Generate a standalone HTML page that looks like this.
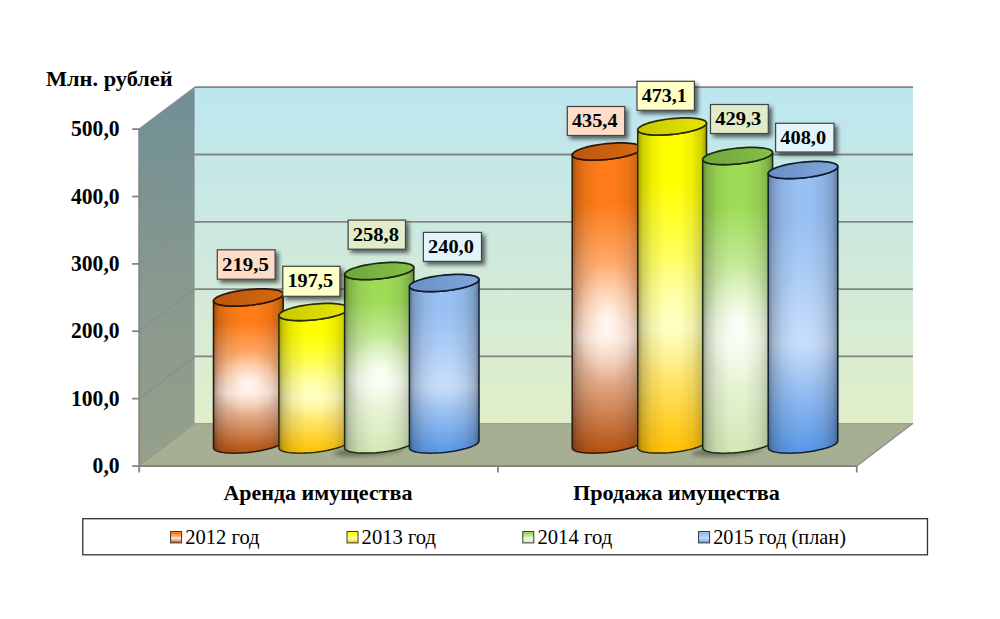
<!DOCTYPE html>
<html><head><meta charset="utf-8">
<style>
html,body{margin:0;padding:0;background:#fff;}
body{width:1000px;height:619px;overflow:hidden;font-family:"Liberation Serif",serif;}
svg{display:block;}
text{font-family:"Liberation Serif",serif;fill:#000;}
.b{font-weight:bold;}
</style></head><body>
<svg width="1000" height="619" viewBox="0 0 1000 619">
<defs>
<linearGradient id="gBack" x1="0" y1="0" x2="0" y2="1">
<stop offset="0" stop-color="#bce6f0"/><stop offset="0.5" stop-color="#cfe9dc"/><stop offset="1" stop-color="#e0efc8"/>
</linearGradient>
<linearGradient id="gSide" x1="0" y1="0" x2="0" y2="1">
<stop offset="0" stop-color="#6f8f96"/><stop offset="0.5" stop-color="#87988f"/><stop offset="1" stop-color="#96a089"/>
</linearGradient>
<filter id="sh" x="-20%" y="-20%" width="150%" height="160%">
<feGaussianBlur in="SourceAlpha" stdDeviation="2"/><feOffset dx="3" dy="3"/>
<feComponentTransfer><feFuncA type="linear" slope="0.6"/></feComponentTransfer>
<feMerge><feMergeNode/><feMergeNode in="SourceGraphic"/></feMerge>
</filter>
<filter id="fs" x="-20%" y="-100%" width="140%" height="300%"><feGaussianBlur stdDeviation="2.2"/></filter>
<linearGradient id="vo" x1="0" y1="0" x2="0" y2="1"><stop offset="0" stop-color="#ff7c18"/><stop offset="0.18" stop-color="#ff7c18"/><stop offset="0.62" stop-color="#ffe2d2"/><stop offset="1" stop-color="#b4500f"/></linearGradient>
<linearGradient id="co" x1="0" y1="0" x2="1" y2="0"><stop offset="0" stop-color="#b9560d"/><stop offset="1" stop-color="#d8690f"/></linearGradient>
<linearGradient id="vy" x1="0" y1="0" x2="0" y2="1"><stop offset="0" stop-color="#ffff00"/><stop offset="0.18" stop-color="#ffff00"/><stop offset="0.62" stop-color="#ffffb4"/><stop offset="1" stop-color="#ffc000"/></linearGradient>
<linearGradient id="cy" x1="0" y1="0" x2="1" y2="0"><stop offset="0" stop-color="#c8c800"/><stop offset="1" stop-color="#e6e600"/></linearGradient>
<linearGradient id="vg" x1="0" y1="0" x2="0" y2="1"><stop offset="0" stop-color="#9edc58"/><stop offset="0.18" stop-color="#9edc58"/><stop offset="0.62" stop-color="#f4fbe8"/><stop offset="1" stop-color="#d2e8b4"/></linearGradient>
<linearGradient id="cg" x1="0" y1="0" x2="1" y2="0"><stop offset="0" stop-color="#6ea63a"/><stop offset="1" stop-color="#86c048"/></linearGradient>
<linearGradient id="vb" x1="0" y1="0" x2="0" y2="1"><stop offset="0" stop-color="#98c0f2"/><stop offset="0.18" stop-color="#98c0f2"/><stop offset="0.62" stop-color="#c2daf9"/><stop offset="1" stop-color="#5896e6"/></linearGradient>
<linearGradient id="cb" x1="0" y1="0" x2="1" y2="0"><stop offset="0" stop-color="#6a8fc4"/><stop offset="1" stop-color="#80a6dc"/></linearGradient>
<linearGradient id="edge" x1="0" y1="0" x2="1" y2="0"><stop offset="0" stop-color="#000" stop-opacity="0.38"/><stop offset="0.07" stop-color="#000" stop-opacity="0.19"/><stop offset="0.2" stop-color="#000" stop-opacity="0.07"/><stop offset="0.4" stop-color="#000" stop-opacity="0"/><stop offset="0.6" stop-color="#000" stop-opacity="0"/><stop offset="0.8" stop-color="#000" stop-opacity="0.07"/><stop offset="0.93" stop-color="#000" stop-opacity="0.19"/><stop offset="1" stop-color="#000" stop-opacity="0.38"/></linearGradient>
<radialGradient id="ho" cx="0.5" cy="0.5" r="0.5"><stop offset="0" stop-color="#ffffff" stop-opacity="0.85"/><stop offset="0.45" stop-color="#ffffff" stop-opacity="0.36"/><stop offset="1" stop-color="#ffffff" stop-opacity="0"/></radialGradient>
<radialGradient id="hy" cx="0.5" cy="0.5" r="0.5"><stop offset="0" stop-color="#ffffd8" stop-opacity="0.55"/><stop offset="0.45" stop-color="#ffffd8" stop-opacity="0.23"/><stop offset="1" stop-color="#ffffd8" stop-opacity="0"/></radialGradient>
<radialGradient id="hg" cx="0.5" cy="0.5" r="0.5"><stop offset="0" stop-color="#ffffff" stop-opacity="0.8"/><stop offset="0.45" stop-color="#ffffff" stop-opacity="0.34"/><stop offset="1" stop-color="#ffffff" stop-opacity="0"/></radialGradient>
<radialGradient id="hb" cx="0.5" cy="0.5" r="0.5"><stop offset="0" stop-color="#dcebff" stop-opacity="0.26"/><stop offset="0.45" stop-color="#dcebff" stop-opacity="0.11"/><stop offset="1" stop-color="#dcebff" stop-opacity="0"/></radialGradient>
</defs>
<polygon points="139.2,129.1 194.8,87.2 194.8,423.2 139.2,466.0" fill="url(#gSide)"/>
<rect x="194.8" y="87.2" width="718.2" height="336.0" fill="url(#gBack)"/>
<polygon points="139.2,466.0 194.8,423.2 913.0,423.2 856.8,466.0" fill="#a6af91"/>
<g stroke="#848484" stroke-width="1.8" fill="none">
<path d="M139.2 129.1 L194.8 87.2" stroke="#8c8c8c" stroke-width="1.3"/>
<path d="M194.8 87.2 L913.0 87.2"/>
<path d="M132.2 129.1 L139.2 129.1"/>
<path d="M139.2 196.5 L194.8 154.5" stroke="#8c8c8c" stroke-width="1.3"/>
<path d="M194.8 154.5 L913.0 154.5"/>
<path d="M132.2 196.5 L139.2 196.5"/>
<path d="M139.2 263.9 L194.8 221.8" stroke="#8c8c8c" stroke-width="1.3"/>
<path d="M194.8 221.8 L913.0 221.8"/>
<path d="M132.2 263.9 L139.2 263.9"/>
<path d="M139.2 331.2 L194.8 289.1" stroke="#8c8c8c" stroke-width="1.3"/>
<path d="M194.8 289.1 L913.0 289.1"/>
<path d="M132.2 331.2 L139.2 331.2"/>
<path d="M139.2 398.6 L194.8 356.4" stroke="#8c8c8c" stroke-width="1.3"/>
<path d="M194.8 356.4 L913.0 356.4"/>
<path d="M132.2 398.6 L139.2 398.6"/>
<path d="M139.2 466.0 L194.8 423.7" stroke="#8f957f" stroke-width="1"/>
<path d="M194.8 423.7 L913.0 423.7" stroke="#949a80" stroke-width="1"/>
<path d="M132.2 466.0 L139.2 466.0"/>
<path d="M139.2 129.1 L139.2 472.5"/>
<path d="M139.2 466.0 L856.8 466.0"/>
<path d="M856.8 466.0 L913.0 423.2" stroke="#8c8c8c" stroke-width="1.4"/>
<path d="M498.0 466.0 v6.5 M856.8 466.0 v6.5"/>
</g>
<g>
<ellipse cx="726.7" cy="451.0" rx="35" ry="4.5" fill="#3c4030" opacity="0.55" filter="url(#fs)" transform="rotate(-4 729.7 451.0)"/>
<ellipse cx="368.2" cy="451.0" rx="35" ry="4.5" fill="#3c4030" opacity="0.55" filter="url(#fs)" transform="rotate(-4 371.2 451.0)"/>
<path d="M213.50 300.99 L213.69 301.79 L214.26 302.55 L215.21 303.26 L216.51 303.90 L218.17 304.47 L220.16 304.96 L222.45 305.38 L225.03 305.70 L227.87 305.94 L230.93 306.08 L234.18 306.13 L237.58 306.09 L241.10 305.95 L244.71 305.72 L248.35 305.40 L251.99 304.99 L255.60 304.50 L259.12 303.94 L262.52 303.30 L265.77 302.60 L268.83 301.84 L271.67 301.04 L274.25 300.20 L276.54 299.32 L278.53 298.43 L280.19 297.53 L281.49 296.63 L282.44 295.73 L283.01 294.86 L283.20 294.01 L283.20 441.01 L283.01 441.86 L282.44 442.73 L281.49 443.63 L280.19 444.53 L278.53 445.43 L276.54 446.32 L274.25 447.20 L271.67 448.04 L268.83 448.84 L265.77 449.60 L262.52 450.30 L259.12 450.94 L255.60 451.50 L251.99 451.99 L248.35 452.40 L244.71 452.72 L241.10 452.95 L237.58 453.09 L234.18 453.13 L230.93 453.08 L227.87 452.94 L225.03 452.70 L222.45 452.38 L220.16 451.96 L218.17 451.47 L216.51 450.90 L215.21 450.26 L214.26 449.55 L213.69 448.79 L213.50 447.99Z" fill="url(#vo)"/>
<path d="M213.50 300.99 L213.69 301.79 L214.26 302.55 L215.21 303.26 L216.51 303.90 L218.17 304.47 L220.16 304.96 L222.45 305.38 L225.03 305.70 L227.87 305.94 L230.93 306.08 L234.18 306.13 L237.58 306.09 L241.10 305.95 L244.71 305.72 L248.35 305.40 L251.99 304.99 L255.60 304.50 L259.12 303.94 L262.52 303.30 L265.77 302.60 L268.83 301.84 L271.67 301.04 L274.25 300.20 L276.54 299.32 L278.53 298.43 L280.19 297.53 L281.49 296.63 L282.44 295.73 L283.01 294.86 L283.20 294.01 L283.20 441.01 L283.01 441.86 L282.44 442.73 L281.49 443.63 L280.19 444.53 L278.53 445.43 L276.54 446.32 L274.25 447.20 L271.67 448.04 L268.83 448.84 L265.77 449.60 L262.52 450.30 L259.12 450.94 L255.60 451.50 L251.99 451.99 L248.35 452.40 L244.71 452.72 L241.10 452.95 L237.58 453.09 L234.18 453.13 L230.93 453.08 L227.87 452.94 L225.03 452.70 L222.45 452.38 L220.16 451.96 L218.17 451.47 L216.51 450.90 L215.21 450.26 L214.26 449.55 L213.69 448.79 L213.50 447.99Z" fill="url(#edge)"/>
<clipPath id="cp4"><path d="M213.50 300.99 L213.69 301.79 L214.26 302.55 L215.21 303.26 L216.51 303.90 L218.17 304.47 L220.16 304.96 L222.45 305.38 L225.03 305.70 L227.87 305.94 L230.93 306.08 L234.18 306.13 L237.58 306.09 L241.10 305.95 L244.71 305.72 L248.35 305.40 L251.99 304.99 L255.60 304.50 L259.12 303.94 L262.52 303.30 L265.77 302.60 L268.83 301.84 L271.67 301.04 L274.25 300.20 L276.54 299.32 L278.53 298.43 L280.19 297.53 L281.49 296.63 L282.44 295.73 L283.01 294.86 L283.20 294.01 L283.20 441.01 L283.01 441.86 L282.44 442.73 L281.49 443.63 L280.19 444.53 L278.53 445.43 L276.54 446.32 L274.25 447.20 L271.67 448.04 L268.83 448.84 L265.77 449.60 L262.52 450.30 L259.12 450.94 L255.60 451.50 L251.99 451.99 L248.35 452.40 L244.71 452.72 L241.10 452.95 L237.58 453.09 L234.18 453.13 L230.93 453.08 L227.87 452.94 L225.03 452.70 L222.45 452.38 L220.16 451.96 L218.17 451.47 L216.51 450.90 L215.21 450.26 L214.26 449.55 L213.69 448.79 L213.50 447.99Z"/></clipPath>
<ellipse cx="248.3" cy="383.5" rx="33.1" ry="32.0" fill="url(#ho)" clip-path="url(#cp4)"/>
<path d="M213.50 300.99 L213.69 301.79 L214.26 302.55 L215.21 303.26 L216.51 303.90 L218.17 304.47 L220.16 304.96 L222.45 305.38 L225.03 305.70 L227.87 305.94 L230.93 306.08 L234.18 306.13 L237.58 306.09 L241.10 305.95 L244.71 305.72 L248.35 305.40 L251.99 304.99 L255.60 304.50 L259.12 303.94 L262.52 303.30 L265.77 302.60 L268.83 301.84 L271.67 301.04 L274.25 300.20 L276.54 299.32 L278.53 298.43 L280.19 297.53 L281.49 296.63 L282.44 295.73 L283.01 294.86 L283.20 294.01 L283.20 441.01 L283.01 441.86 L282.44 442.73 L281.49 443.63 L280.19 444.53 L278.53 445.43 L276.54 446.32 L274.25 447.20 L271.67 448.04 L268.83 448.84 L265.77 449.60 L262.52 450.30 L259.12 450.94 L255.60 451.50 L251.99 451.99 L248.35 452.40 L244.71 452.72 L241.10 452.95 L237.58 453.09 L234.18 453.13 L230.93 453.08 L227.87 452.94 L225.03 452.70 L222.45 452.38 L220.16 451.96 L218.17 451.47 L216.51 450.90 L215.21 450.26 L214.26 449.55 L213.69 448.79 L213.50 447.99Z" fill="none" stroke="#2a1608" stroke-width="1.5" stroke-linejoin="round"/>
<path d="M213.50 300.99 L213.69 300.14 L214.26 299.27 L215.21 298.37 L216.51 297.47 L218.17 296.57 L220.16 295.68 L222.45 294.80 L225.03 293.96 L227.87 293.16 L230.92 292.40 L234.18 291.70 L237.58 291.06 L241.10 290.50 L244.71 290.01 L248.35 289.60 L251.99 289.28 L255.60 289.05 L259.12 288.91 L262.52 288.87 L265.77 288.92 L268.83 289.06 L271.67 289.30 L274.25 289.62 L276.54 290.04 L278.53 290.53 L280.19 291.10 L281.49 291.74 L282.44 292.45 L283.01 293.21 L283.20 294.01 L283.20 294.01 L283.01 294.86 L282.44 295.73 L281.49 296.63 L280.19 297.53 L278.53 298.43 L276.54 299.32 L274.25 300.20 L271.67 301.04 L268.83 301.84 L265.77 302.60 L262.52 303.30 L259.12 303.94 L255.60 304.50 L251.99 304.99 L248.35 305.40 L244.71 305.72 L241.10 305.95 L237.58 306.09 L234.18 306.13 L230.93 306.08 L227.87 305.94 L225.03 305.70 L222.45 305.38 L220.16 304.96 L218.17 304.47 L216.51 303.90 L215.21 303.26 L214.26 302.55 L213.69 301.79 L213.50 300.99Z" fill="url(#co)" stroke="#2a1608" stroke-width="1.7"/>
<path d="M278.90 315.48 L279.09 316.29 L279.66 317.05 L280.60 317.75 L281.91 318.39 L283.56 318.96 L285.55 319.46 L287.84 319.87 L290.41 320.20 L293.25 320.44 L296.30 320.58 L299.55 320.63 L302.95 320.59 L306.46 320.45 L310.06 320.22 L313.70 319.90 L317.34 319.49 L320.94 319.00 L324.45 318.44 L327.85 317.80 L331.10 317.10 L334.15 316.35 L336.99 315.54 L339.56 314.70 L341.85 313.83 L343.84 312.94 L345.49 312.03 L346.80 311.13 L347.74 310.24 L348.31 309.36 L348.50 308.52 L348.50 441.02 L348.31 441.86 L347.74 442.74 L346.80 443.63 L345.49 444.53 L343.84 445.44 L341.85 446.33 L339.56 447.20 L336.99 448.04 L334.15 448.85 L331.10 449.60 L327.85 450.30 L324.45 450.94 L320.94 451.50 L317.34 451.99 L313.70 452.40 L310.06 452.72 L306.46 452.95 L302.95 453.09 L299.55 453.13 L296.30 453.08 L293.25 452.94 L290.41 452.70 L287.84 452.37 L285.55 451.96 L283.56 451.46 L281.91 450.89 L280.60 450.25 L279.66 449.55 L279.09 448.79 L278.90 447.98Z" fill="url(#vy)"/>
<path d="M278.90 315.48 L279.09 316.29 L279.66 317.05 L280.60 317.75 L281.91 318.39 L283.56 318.96 L285.55 319.46 L287.84 319.87 L290.41 320.20 L293.25 320.44 L296.30 320.58 L299.55 320.63 L302.95 320.59 L306.46 320.45 L310.06 320.22 L313.70 319.90 L317.34 319.49 L320.94 319.00 L324.45 318.44 L327.85 317.80 L331.10 317.10 L334.15 316.35 L336.99 315.54 L339.56 314.70 L341.85 313.83 L343.84 312.94 L345.49 312.03 L346.80 311.13 L347.74 310.24 L348.31 309.36 L348.50 308.52 L348.50 441.02 L348.31 441.86 L347.74 442.74 L346.80 443.63 L345.49 444.53 L343.84 445.44 L341.85 446.33 L339.56 447.20 L336.99 448.04 L334.15 448.85 L331.10 449.60 L327.85 450.30 L324.45 450.94 L320.94 451.50 L317.34 451.99 L313.70 452.40 L310.06 452.72 L306.46 452.95 L302.95 453.09 L299.55 453.13 L296.30 453.08 L293.25 452.94 L290.41 452.70 L287.84 452.37 L285.55 451.96 L283.56 451.46 L281.91 450.89 L280.60 450.25 L279.66 449.55 L279.09 448.79 L278.90 447.98Z" fill="url(#edge)"/>
<clipPath id="cp10"><path d="M278.90 315.48 L279.09 316.29 L279.66 317.05 L280.60 317.75 L281.91 318.39 L283.56 318.96 L285.55 319.46 L287.84 319.87 L290.41 320.20 L293.25 320.44 L296.30 320.58 L299.55 320.63 L302.95 320.59 L306.46 320.45 L310.06 320.22 L313.70 319.90 L317.34 319.49 L320.94 319.00 L324.45 318.44 L327.85 317.80 L331.10 317.10 L334.15 316.35 L336.99 315.54 L339.56 314.70 L341.85 313.83 L343.84 312.94 L345.49 312.03 L346.80 311.13 L347.74 310.24 L348.31 309.36 L348.50 308.52 L348.50 441.02 L348.31 441.86 L347.74 442.74 L346.80 443.63 L345.49 444.53 L343.84 445.44 L341.85 446.33 L339.56 447.20 L336.99 448.04 L334.15 448.85 L331.10 449.60 L327.85 450.30 L324.45 450.94 L320.94 451.50 L317.34 451.99 L313.70 452.40 L310.06 452.72 L306.46 452.95 L302.95 453.09 L299.55 453.13 L296.30 453.08 L293.25 452.94 L290.41 452.70 L287.84 452.37 L285.55 451.96 L283.56 451.46 L281.91 450.89 L280.60 450.25 L279.66 449.55 L279.09 448.79 L278.90 447.98Z"/></clipPath>
<ellipse cx="313.7" cy="389.5" rx="33.1" ry="32.0" fill="url(#hy)" clip-path="url(#cp10)"/>
<path d="M278.90 315.48 L279.09 316.29 L279.66 317.05 L280.60 317.75 L281.91 318.39 L283.56 318.96 L285.55 319.46 L287.84 319.87 L290.41 320.20 L293.25 320.44 L296.30 320.58 L299.55 320.63 L302.95 320.59 L306.46 320.45 L310.06 320.22 L313.70 319.90 L317.34 319.49 L320.94 319.00 L324.45 318.44 L327.85 317.80 L331.10 317.10 L334.15 316.35 L336.99 315.54 L339.56 314.70 L341.85 313.83 L343.84 312.94 L345.49 312.03 L346.80 311.13 L347.74 310.24 L348.31 309.36 L348.50 308.52 L348.50 441.02 L348.31 441.86 L347.74 442.74 L346.80 443.63 L345.49 444.53 L343.84 445.44 L341.85 446.33 L339.56 447.20 L336.99 448.04 L334.15 448.85 L331.10 449.60 L327.85 450.30 L324.45 450.94 L320.94 451.50 L317.34 451.99 L313.70 452.40 L310.06 452.72 L306.46 452.95 L302.95 453.09 L299.55 453.13 L296.30 453.08 L293.25 452.94 L290.41 452.70 L287.84 452.37 L285.55 451.96 L283.56 451.46 L281.91 450.89 L280.60 450.25 L279.66 449.55 L279.09 448.79 L278.90 447.98Z" fill="none" stroke="#2a2a08" stroke-width="1.5" stroke-linejoin="round"/>
<path d="M278.90 315.48 L279.09 314.64 L279.66 313.76 L280.60 312.87 L281.91 311.97 L283.56 311.06 L285.55 310.17 L287.84 309.30 L290.41 308.46 L293.25 307.65 L296.30 306.90 L299.55 306.20 L302.95 305.56 L306.46 305.00 L310.06 304.51 L313.70 304.10 L317.34 303.78 L320.94 303.55 L324.45 303.41 L327.85 303.37 L331.10 303.42 L334.15 303.56 L336.99 303.80 L339.56 304.13 L341.85 304.54 L343.84 305.04 L345.49 305.61 L346.80 306.25 L347.74 306.95 L348.31 307.71 L348.50 308.52 L348.50 308.52 L348.31 309.36 L347.74 310.24 L346.80 311.13 L345.49 312.03 L343.84 312.94 L341.85 313.83 L339.56 314.70 L336.99 315.54 L334.15 316.35 L331.10 317.10 L327.85 317.80 L324.45 318.44 L320.94 319.00 L317.34 319.49 L313.70 319.90 L310.06 320.22 L306.46 320.45 L302.95 320.59 L299.55 320.63 L296.30 320.58 L293.25 320.44 L290.41 320.20 L287.84 319.87 L285.55 319.46 L283.56 318.96 L281.91 318.39 L280.60 317.75 L279.66 317.05 L279.09 316.29 L278.90 315.48Z" fill="url(#cy)" stroke="#2a2a08" stroke-width="1.7"/>
<path d="M344.60 274.46 L344.79 275.27 L345.36 276.03 L346.29 276.73 L347.59 277.37 L349.24 277.95 L351.21 278.44 L353.49 278.86 L356.05 279.19 L358.86 279.42 L361.90 279.57 L365.13 279.62 L368.51 279.58 L372.01 279.45 L375.58 279.22 L379.20 278.90 L382.82 278.50 L386.39 278.01 L389.89 277.44 L393.27 276.81 L396.50 276.11 L399.54 275.36 L402.35 274.56 L404.91 273.71 L407.19 272.84 L409.16 271.95 L410.81 271.05 L412.11 270.15 L413.04 269.26 L413.61 268.38 L413.80 267.54 L413.80 441.04 L413.61 441.88 L413.04 442.76 L412.11 443.65 L410.81 444.55 L409.16 445.45 L407.19 446.34 L404.91 447.21 L402.35 448.06 L399.54 448.86 L396.50 449.61 L393.27 450.31 L389.89 450.94 L386.39 451.51 L382.82 452.00 L379.20 452.40 L375.58 452.72 L372.01 452.95 L368.51 453.08 L365.13 453.12 L361.90 453.07 L358.86 452.92 L356.05 452.69 L353.49 452.36 L351.21 451.94 L349.24 451.45 L347.59 450.87 L346.29 450.23 L345.36 449.53 L344.79 448.77 L344.60 447.96Z" fill="url(#vg)"/>
<path d="M344.60 274.46 L344.79 275.27 L345.36 276.03 L346.29 276.73 L347.59 277.37 L349.24 277.95 L351.21 278.44 L353.49 278.86 L356.05 279.19 L358.86 279.42 L361.90 279.57 L365.13 279.62 L368.51 279.58 L372.01 279.45 L375.58 279.22 L379.20 278.90 L382.82 278.50 L386.39 278.01 L389.89 277.44 L393.27 276.81 L396.50 276.11 L399.54 275.36 L402.35 274.56 L404.91 273.71 L407.19 272.84 L409.16 271.95 L410.81 271.05 L412.11 270.15 L413.04 269.26 L413.61 268.38 L413.80 267.54 L413.80 441.04 L413.61 441.88 L413.04 442.76 L412.11 443.65 L410.81 444.55 L409.16 445.45 L407.19 446.34 L404.91 447.21 L402.35 448.06 L399.54 448.86 L396.50 449.61 L393.27 450.31 L389.89 450.94 L386.39 451.51 L382.82 452.00 L379.20 452.40 L375.58 452.72 L372.01 452.95 L368.51 453.08 L365.13 453.12 L361.90 453.07 L358.86 452.92 L356.05 452.69 L353.49 452.36 L351.21 451.94 L349.24 451.45 L347.59 450.87 L346.29 450.23 L345.36 449.53 L344.79 448.77 L344.60 447.96Z" fill="url(#edge)"/>
<clipPath id="cp16"><path d="M344.60 274.46 L344.79 275.27 L345.36 276.03 L346.29 276.73 L347.59 277.37 L349.24 277.95 L351.21 278.44 L353.49 278.86 L356.05 279.19 L358.86 279.42 L361.90 279.57 L365.13 279.62 L368.51 279.58 L372.01 279.45 L375.58 279.22 L379.20 278.90 L382.82 278.50 L386.39 278.01 L389.89 277.44 L393.27 276.81 L396.50 276.11 L399.54 275.36 L402.35 274.56 L404.91 273.71 L407.19 272.84 L409.16 271.95 L410.81 271.05 L412.11 270.15 L413.04 269.26 L413.61 268.38 L413.80 267.54 L413.80 441.04 L413.61 441.88 L413.04 442.76 L412.11 443.65 L410.81 444.55 L409.16 445.45 L407.19 446.34 L404.91 447.21 L402.35 448.06 L399.54 448.86 L396.50 449.61 L393.27 450.31 L389.89 450.94 L386.39 451.51 L382.82 452.00 L379.20 452.40 L375.58 452.72 L372.01 452.95 L368.51 453.08 L365.13 453.12 L361.90 453.07 L358.86 452.92 L356.05 452.69 L353.49 452.36 L351.21 451.94 L349.24 451.45 L347.59 450.87 L346.29 450.23 L345.36 449.53 L344.79 448.77 L344.60 447.96Z"/></clipPath>
<ellipse cx="379.2" cy="372.5" rx="32.9" ry="36.4" fill="url(#hg)" clip-path="url(#cp16)"/>
<path d="M344.60 274.46 L344.79 275.27 L345.36 276.03 L346.29 276.73 L347.59 277.37 L349.24 277.95 L351.21 278.44 L353.49 278.86 L356.05 279.19 L358.86 279.42 L361.90 279.57 L365.13 279.62 L368.51 279.58 L372.01 279.45 L375.58 279.22 L379.20 278.90 L382.82 278.50 L386.39 278.01 L389.89 277.44 L393.27 276.81 L396.50 276.11 L399.54 275.36 L402.35 274.56 L404.91 273.71 L407.19 272.84 L409.16 271.95 L410.81 271.05 L412.11 270.15 L413.04 269.26 L413.61 268.38 L413.80 267.54 L413.80 441.04 L413.61 441.88 L413.04 442.76 L412.11 443.65 L410.81 444.55 L409.16 445.45 L407.19 446.34 L404.91 447.21 L402.35 448.06 L399.54 448.86 L396.50 449.61 L393.27 450.31 L389.89 450.94 L386.39 451.51 L382.82 452.00 L379.20 452.40 L375.58 452.72 L372.01 452.95 L368.51 453.08 L365.13 453.12 L361.90 453.07 L358.86 452.92 L356.05 452.69 L353.49 452.36 L351.21 451.94 L349.24 451.45 L347.59 450.87 L346.29 450.23 L345.36 449.53 L344.79 448.77 L344.60 447.96Z" fill="none" stroke="#1c2a10" stroke-width="1.5" stroke-linejoin="round"/>
<path d="M344.60 274.46 L344.79 273.62 L345.36 272.74 L346.29 271.85 L347.59 270.95 L349.24 270.05 L351.21 269.16 L353.49 268.29 L356.05 267.44 L358.86 266.64 L361.90 265.89 L365.13 265.19 L368.51 264.56 L372.01 263.99 L375.58 263.50 L379.20 263.10 L382.82 262.78 L386.39 262.55 L389.89 262.42 L393.27 262.38 L396.50 262.43 L399.54 262.58 L402.35 262.81 L404.91 263.14 L407.19 263.56 L409.16 264.05 L410.81 264.63 L412.11 265.27 L413.04 265.97 L413.61 266.73 L413.80 267.54 L413.80 267.54 L413.61 268.38 L413.04 269.26 L412.11 270.15 L410.81 271.05 L409.16 271.95 L407.19 272.84 L404.91 273.71 L402.35 274.56 L399.54 275.36 L396.50 276.11 L393.27 276.81 L389.89 277.44 L386.39 278.01 L382.82 278.50 L379.20 278.90 L375.58 279.22 L372.01 279.45 L368.51 279.58 L365.13 279.62 L361.90 279.57 L358.86 279.42 L356.05 279.19 L353.49 278.86 L351.21 278.44 L349.24 277.95 L347.59 277.37 L346.29 276.73 L345.36 276.03 L344.79 275.27 L344.60 274.46Z" fill="url(#cg)" stroke="#1c2a10" stroke-width="1.7"/>
<path d="M409.40 286.48 L409.59 287.29 L410.16 288.05 L411.10 288.75 L412.41 289.39 L414.06 289.96 L416.05 290.46 L418.34 290.87 L420.91 291.20 L423.75 291.44 L426.80 291.58 L430.05 291.63 L433.45 291.59 L436.96 291.45 L440.56 291.22 L444.20 290.90 L447.84 290.49 L451.44 290.00 L454.95 289.44 L458.35 288.80 L461.60 288.10 L464.65 287.35 L467.49 286.54 L470.06 285.70 L472.35 284.83 L474.34 283.94 L475.99 283.03 L477.30 282.13 L478.24 281.24 L478.81 280.36 L479.00 279.52 L479.00 441.02 L478.81 441.86 L478.24 442.74 L477.30 443.63 L475.99 444.53 L474.34 445.44 L472.35 446.33 L470.06 447.20 L467.49 448.04 L464.65 448.85 L461.60 449.60 L458.35 450.30 L454.95 450.94 L451.44 451.50 L447.84 451.99 L444.20 452.40 L440.56 452.72 L436.96 452.95 L433.45 453.09 L430.05 453.13 L426.80 453.08 L423.75 452.94 L420.91 452.70 L418.34 452.37 L416.05 451.96 L414.06 451.46 L412.41 450.89 L411.10 450.25 L410.16 449.55 L409.59 448.79 L409.40 447.98Z" fill="url(#vb)"/>
<path d="M409.40 286.48 L409.59 287.29 L410.16 288.05 L411.10 288.75 L412.41 289.39 L414.06 289.96 L416.05 290.46 L418.34 290.87 L420.91 291.20 L423.75 291.44 L426.80 291.58 L430.05 291.63 L433.45 291.59 L436.96 291.45 L440.56 291.22 L444.20 290.90 L447.84 290.49 L451.44 290.00 L454.95 289.44 L458.35 288.80 L461.60 288.10 L464.65 287.35 L467.49 286.54 L470.06 285.70 L472.35 284.83 L474.34 283.94 L475.99 283.03 L477.30 282.13 L478.24 281.24 L478.81 280.36 L479.00 279.52 L479.00 441.02 L478.81 441.86 L478.24 442.74 L477.30 443.63 L475.99 444.53 L474.34 445.44 L472.35 446.33 L470.06 447.20 L467.49 448.04 L464.65 448.85 L461.60 449.60 L458.35 450.30 L454.95 450.94 L451.44 451.50 L447.84 451.99 L444.20 452.40 L440.56 452.72 L436.96 452.95 L433.45 453.09 L430.05 453.13 L426.80 453.08 L423.75 452.94 L420.91 452.70 L418.34 452.37 L416.05 451.96 L414.06 451.46 L412.41 450.89 L411.10 450.25 L410.16 449.55 L409.59 448.79 L409.40 447.98Z" fill="url(#edge)"/>
<clipPath id="cp22"><path d="M409.40 286.48 L409.59 287.29 L410.16 288.05 L411.10 288.75 L412.41 289.39 L414.06 289.96 L416.05 290.46 L418.34 290.87 L420.91 291.20 L423.75 291.44 L426.80 291.58 L430.05 291.63 L433.45 291.59 L436.96 291.45 L440.56 291.22 L444.20 290.90 L447.84 290.49 L451.44 290.00 L454.95 289.44 L458.35 288.80 L461.60 288.10 L464.65 287.35 L467.49 286.54 L470.06 285.70 L472.35 284.83 L474.34 283.94 L475.99 283.03 L477.30 282.13 L478.24 281.24 L478.81 280.36 L479.00 279.52 L479.00 441.02 L478.81 441.86 L478.24 442.74 L477.30 443.63 L475.99 444.53 L474.34 445.44 L472.35 446.33 L470.06 447.20 L467.49 448.04 L464.65 448.85 L461.60 449.60 L458.35 450.30 L454.95 450.94 L451.44 451.50 L447.84 451.99 L444.20 452.40 L440.56 452.72 L436.96 452.95 L433.45 453.09 L430.05 453.13 L426.80 453.08 L423.75 452.94 L420.91 452.70 L418.34 452.37 L416.05 451.96 L414.06 451.46 L412.41 450.89 L411.10 450.25 L410.16 449.55 L409.59 448.79 L409.40 447.98Z"/></clipPath>
<ellipse cx="444.2" cy="377.5" rx="33.1" ry="33.9" fill="url(#hb)" clip-path="url(#cp22)"/>
<path d="M409.40 286.48 L409.59 287.29 L410.16 288.05 L411.10 288.75 L412.41 289.39 L414.06 289.96 L416.05 290.46 L418.34 290.87 L420.91 291.20 L423.75 291.44 L426.80 291.58 L430.05 291.63 L433.45 291.59 L436.96 291.45 L440.56 291.22 L444.20 290.90 L447.84 290.49 L451.44 290.00 L454.95 289.44 L458.35 288.80 L461.60 288.10 L464.65 287.35 L467.49 286.54 L470.06 285.70 L472.35 284.83 L474.34 283.94 L475.99 283.03 L477.30 282.13 L478.24 281.24 L478.81 280.36 L479.00 279.52 L479.00 441.02 L478.81 441.86 L478.24 442.74 L477.30 443.63 L475.99 444.53 L474.34 445.44 L472.35 446.33 L470.06 447.20 L467.49 448.04 L464.65 448.85 L461.60 449.60 L458.35 450.30 L454.95 450.94 L451.44 451.50 L447.84 451.99 L444.20 452.40 L440.56 452.72 L436.96 452.95 L433.45 453.09 L430.05 453.13 L426.80 453.08 L423.75 452.94 L420.91 452.70 L418.34 452.37 L416.05 451.96 L414.06 451.46 L412.41 450.89 L411.10 450.25 L410.16 449.55 L409.59 448.79 L409.40 447.98Z" fill="none" stroke="#101c30" stroke-width="1.5" stroke-linejoin="round"/>
<path d="M409.40 286.48 L409.59 285.64 L410.16 284.76 L411.10 283.87 L412.41 282.97 L414.06 282.06 L416.05 281.17 L418.34 280.30 L420.91 279.46 L423.75 278.65 L426.80 277.90 L430.05 277.20 L433.45 276.56 L436.96 276.00 L440.56 275.51 L444.20 275.10 L447.84 274.78 L451.44 274.55 L454.95 274.41 L458.35 274.37 L461.60 274.42 L464.65 274.56 L467.49 274.80 L470.06 275.13 L472.35 275.54 L474.34 276.04 L475.99 276.61 L477.30 277.25 L478.24 277.95 L478.81 278.71 L479.00 279.52 L479.00 279.52 L478.81 280.36 L478.24 281.24 L477.30 282.13 L475.99 283.03 L474.34 283.94 L472.35 284.83 L470.06 285.70 L467.49 286.54 L464.65 287.35 L461.60 288.10 L458.35 288.80 L454.95 289.44 L451.44 290.00 L447.84 290.49 L444.20 290.90 L440.56 291.22 L436.96 291.45 L433.45 291.59 L430.05 291.63 L426.80 291.58 L423.75 291.44 L420.91 291.20 L418.34 290.87 L416.05 290.46 L414.06 289.96 L412.41 289.39 L411.10 288.75 L410.16 288.05 L409.59 287.29 L409.40 286.48Z" fill="url(#cb)" stroke="#101c30" stroke-width="1.7"/>
<path d="M572.20 154.98 L572.39 155.79 L572.96 156.55 L573.90 157.25 L575.21 157.89 L576.86 158.46 L578.85 158.96 L581.14 159.37 L583.71 159.70 L586.55 159.94 L589.60 160.08 L592.85 160.13 L596.25 160.09 L599.76 159.95 L603.36 159.72 L607.00 159.40 L610.64 158.99 L614.24 158.50 L617.75 157.94 L621.15 157.30 L624.40 156.60 L627.45 155.85 L630.29 155.04 L632.86 154.20 L635.15 153.33 L637.14 152.44 L638.79 151.53 L640.10 150.63 L641.04 149.74 L641.61 148.86 L641.80 148.02 L641.80 441.02 L641.61 441.86 L641.04 442.74 L640.10 443.63 L638.79 444.53 L637.14 445.44 L635.15 446.33 L632.86 447.20 L630.29 448.04 L627.45 448.85 L624.40 449.60 L621.15 450.30 L617.75 450.94 L614.24 451.50 L610.64 451.99 L607.00 452.40 L603.36 452.72 L599.76 452.95 L596.25 453.09 L592.85 453.13 L589.60 453.08 L586.55 452.94 L583.71 452.70 L581.14 452.37 L578.85 451.96 L576.86 451.46 L575.21 450.89 L573.90 450.25 L572.96 449.55 L572.39 448.79 L572.20 447.98Z" fill="url(#vo)"/>
<path d="M572.20 154.98 L572.39 155.79 L572.96 156.55 L573.90 157.25 L575.21 157.89 L576.86 158.46 L578.85 158.96 L581.14 159.37 L583.71 159.70 L586.55 159.94 L589.60 160.08 L592.85 160.13 L596.25 160.09 L599.76 159.95 L603.36 159.72 L607.00 159.40 L610.64 158.99 L614.24 158.50 L617.75 157.94 L621.15 157.30 L624.40 156.60 L627.45 155.85 L630.29 155.04 L632.86 154.20 L635.15 153.33 L637.14 152.44 L638.79 151.53 L640.10 150.63 L641.04 149.74 L641.61 148.86 L641.80 148.02 L641.80 441.02 L641.61 441.86 L641.04 442.74 L640.10 443.63 L638.79 444.53 L637.14 445.44 L635.15 446.33 L632.86 447.20 L630.29 448.04 L627.45 448.85 L624.40 449.60 L621.15 450.30 L617.75 450.94 L614.24 451.50 L610.64 451.99 L607.00 452.40 L603.36 452.72 L599.76 452.95 L596.25 453.09 L592.85 453.13 L589.60 453.08 L586.55 452.94 L583.71 452.70 L581.14 452.37 L578.85 451.96 L576.86 451.46 L575.21 450.89 L573.90 450.25 L572.96 449.55 L572.39 448.79 L572.20 447.98Z" fill="url(#edge)"/>
<clipPath id="cp28"><path d="M572.20 154.98 L572.39 155.79 L572.96 156.55 L573.90 157.25 L575.21 157.89 L576.86 158.46 L578.85 158.96 L581.14 159.37 L583.71 159.70 L586.55 159.94 L589.60 160.08 L592.85 160.13 L596.25 160.09 L599.76 159.95 L603.36 159.72 L607.00 159.40 L610.64 158.99 L614.24 158.50 L617.75 157.94 L621.15 157.30 L624.40 156.60 L627.45 155.85 L630.29 155.04 L632.86 154.20 L635.15 153.33 L637.14 152.44 L638.79 151.53 L640.10 150.63 L641.04 149.74 L641.61 148.86 L641.80 148.02 L641.80 441.02 L641.61 441.86 L641.04 442.74 L640.10 443.63 L638.79 444.53 L637.14 445.44 L635.15 446.33 L632.86 447.20 L630.29 448.04 L627.45 448.85 L624.40 449.60 L621.15 450.30 L617.75 450.94 L614.24 451.50 L610.64 451.99 L607.00 452.40 L603.36 452.72 L599.76 452.95 L596.25 453.09 L592.85 453.13 L589.60 453.08 L586.55 452.94 L583.71 452.70 L581.14 452.37 L578.85 451.96 L576.86 451.46 L575.21 450.89 L573.90 450.25 L572.96 449.55 L572.39 448.79 L572.20 447.98Z"/></clipPath>
<ellipse cx="607.0" cy="322.9" rx="33.1" ry="61.5" fill="url(#ho)" clip-path="url(#cp28)"/>
<path d="M572.20 154.98 L572.39 155.79 L572.96 156.55 L573.90 157.25 L575.21 157.89 L576.86 158.46 L578.85 158.96 L581.14 159.37 L583.71 159.70 L586.55 159.94 L589.60 160.08 L592.85 160.13 L596.25 160.09 L599.76 159.95 L603.36 159.72 L607.00 159.40 L610.64 158.99 L614.24 158.50 L617.75 157.94 L621.15 157.30 L624.40 156.60 L627.45 155.85 L630.29 155.04 L632.86 154.20 L635.15 153.33 L637.14 152.44 L638.79 151.53 L640.10 150.63 L641.04 149.74 L641.61 148.86 L641.80 148.02 L641.80 441.02 L641.61 441.86 L641.04 442.74 L640.10 443.63 L638.79 444.53 L637.14 445.44 L635.15 446.33 L632.86 447.20 L630.29 448.04 L627.45 448.85 L624.40 449.60 L621.15 450.30 L617.75 450.94 L614.24 451.50 L610.64 451.99 L607.00 452.40 L603.36 452.72 L599.76 452.95 L596.25 453.09 L592.85 453.13 L589.60 453.08 L586.55 452.94 L583.71 452.70 L581.14 452.37 L578.85 451.96 L576.86 451.46 L575.21 450.89 L573.90 450.25 L572.96 449.55 L572.39 448.79 L572.20 447.98Z" fill="none" stroke="#2a1608" stroke-width="1.5" stroke-linejoin="round"/>
<path d="M572.20 154.98 L572.39 154.14 L572.96 153.26 L573.90 152.37 L575.21 151.47 L576.86 150.56 L578.85 149.67 L581.14 148.80 L583.71 147.96 L586.55 147.15 L589.60 146.40 L592.85 145.70 L596.25 145.06 L599.76 144.50 L603.36 144.01 L607.00 143.60 L610.64 143.28 L614.24 143.05 L617.75 142.91 L621.15 142.87 L624.40 142.92 L627.45 143.06 L630.29 143.30 L632.86 143.63 L635.15 144.04 L637.14 144.54 L638.79 145.11 L640.10 145.75 L641.04 146.45 L641.61 147.21 L641.80 148.02 L641.80 148.02 L641.61 148.86 L641.04 149.74 L640.10 150.63 L638.79 151.53 L637.14 152.44 L635.15 153.33 L632.86 154.20 L630.29 155.04 L627.45 155.85 L624.40 156.60 L621.15 157.30 L617.75 157.94 L614.24 158.50 L610.64 158.99 L607.00 159.40 L603.36 159.72 L599.76 159.95 L596.25 160.09 L592.85 160.13 L589.60 160.08 L586.55 159.94 L583.71 159.70 L581.14 159.37 L578.85 158.96 L576.86 158.46 L575.21 157.89 L573.90 157.25 L572.96 156.55 L572.39 155.79 L572.20 154.98Z" fill="url(#co)" stroke="#2a1608" stroke-width="1.7"/>
<path d="M637.70 129.94 L637.89 130.75 L638.45 131.51 L639.38 132.21 L640.67 132.86 L642.31 133.43 L644.27 133.93 L646.54 134.34 L649.08 134.67 L651.88 134.91 L654.90 135.06 L658.11 135.12 L661.47 135.08 L664.95 134.94 L668.50 134.72 L672.10 134.40 L675.70 134.00 L679.25 133.51 L682.73 132.95 L686.09 132.32 L689.30 131.62 L692.32 130.87 L695.12 130.07 L697.66 129.23 L699.93 128.36 L701.89 127.47 L703.53 126.57 L704.82 125.67 L705.75 124.78 L706.31 123.90 L706.50 123.06 L706.50 441.06 L706.31 441.90 L705.75 442.78 L704.82 443.67 L703.53 444.57 L701.89 445.47 L699.93 446.36 L697.66 447.23 L695.12 448.07 L692.32 448.87 L689.30 449.62 L686.09 450.32 L682.73 450.95 L679.25 451.51 L675.70 452.00 L672.10 452.40 L668.50 452.72 L664.95 452.94 L661.47 453.08 L658.11 453.12 L654.90 453.06 L651.88 452.91 L649.08 452.67 L646.54 452.34 L644.27 451.93 L642.31 451.43 L640.67 450.86 L639.38 450.21 L638.45 449.51 L637.89 448.75 L637.70 447.94Z" fill="url(#vy)"/>
<path d="M637.70 129.94 L637.89 130.75 L638.45 131.51 L639.38 132.21 L640.67 132.86 L642.31 133.43 L644.27 133.93 L646.54 134.34 L649.08 134.67 L651.88 134.91 L654.90 135.06 L658.11 135.12 L661.47 135.08 L664.95 134.94 L668.50 134.72 L672.10 134.40 L675.70 134.00 L679.25 133.51 L682.73 132.95 L686.09 132.32 L689.30 131.62 L692.32 130.87 L695.12 130.07 L697.66 129.23 L699.93 128.36 L701.89 127.47 L703.53 126.57 L704.82 125.67 L705.75 124.78 L706.31 123.90 L706.50 123.06 L706.50 441.06 L706.31 441.90 L705.75 442.78 L704.82 443.67 L703.53 444.57 L701.89 445.47 L699.93 446.36 L697.66 447.23 L695.12 448.07 L692.32 448.87 L689.30 449.62 L686.09 450.32 L682.73 450.95 L679.25 451.51 L675.70 452.00 L672.10 452.40 L668.50 452.72 L664.95 452.94 L661.47 453.08 L658.11 453.12 L654.90 453.06 L651.88 452.91 L649.08 452.67 L646.54 452.34 L644.27 451.93 L642.31 451.43 L640.67 450.86 L639.38 450.21 L638.45 449.51 L637.89 448.75 L637.70 447.94Z" fill="url(#edge)"/>
<clipPath id="cp34"><path d="M637.70 129.94 L637.89 130.75 L638.45 131.51 L639.38 132.21 L640.67 132.86 L642.31 133.43 L644.27 133.93 L646.54 134.34 L649.08 134.67 L651.88 134.91 L654.90 135.06 L658.11 135.12 L661.47 135.08 L664.95 134.94 L668.50 134.72 L672.10 134.40 L675.70 134.00 L679.25 133.51 L682.73 132.95 L686.09 132.32 L689.30 131.62 L692.32 130.87 L695.12 130.07 L697.66 129.23 L699.93 128.36 L701.89 127.47 L703.53 126.57 L704.82 125.67 L705.75 124.78 L706.31 123.90 L706.50 123.06 L706.50 441.06 L706.31 441.90 L705.75 442.78 L704.82 443.67 L703.53 444.57 L701.89 445.47 L699.93 446.36 L697.66 447.23 L695.12 448.07 L692.32 448.87 L689.30 449.62 L686.09 450.32 L682.73 450.95 L679.25 451.51 L675.70 452.00 L672.10 452.40 L668.50 452.72 L664.95 452.94 L661.47 453.08 L658.11 453.12 L654.90 453.06 L651.88 452.91 L649.08 452.67 L646.54 452.34 L644.27 451.93 L642.31 451.43 L640.67 450.86 L639.38 450.21 L638.45 449.51 L637.89 448.75 L637.70 447.94Z"/></clipPath>
<ellipse cx="672.1" cy="312.5" rx="32.7" ry="66.8" fill="url(#hy)" clip-path="url(#cp34)"/>
<path d="M637.70 129.94 L637.89 130.75 L638.45 131.51 L639.38 132.21 L640.67 132.86 L642.31 133.43 L644.27 133.93 L646.54 134.34 L649.08 134.67 L651.88 134.91 L654.90 135.06 L658.11 135.12 L661.47 135.08 L664.95 134.94 L668.50 134.72 L672.10 134.40 L675.70 134.00 L679.25 133.51 L682.73 132.95 L686.09 132.32 L689.30 131.62 L692.32 130.87 L695.12 130.07 L697.66 129.23 L699.93 128.36 L701.89 127.47 L703.53 126.57 L704.82 125.67 L705.75 124.78 L706.31 123.90 L706.50 123.06 L706.50 441.06 L706.31 441.90 L705.75 442.78 L704.82 443.67 L703.53 444.57 L701.89 445.47 L699.93 446.36 L697.66 447.23 L695.12 448.07 L692.32 448.87 L689.30 449.62 L686.09 450.32 L682.73 450.95 L679.25 451.51 L675.70 452.00 L672.10 452.40 L668.50 452.72 L664.95 452.94 L661.47 453.08 L658.11 453.12 L654.90 453.06 L651.88 452.91 L649.08 452.67 L646.54 452.34 L644.27 451.93 L642.31 451.43 L640.67 450.86 L639.38 450.21 L638.45 449.51 L637.89 448.75 L637.70 447.94Z" fill="none" stroke="#2a2a08" stroke-width="1.5" stroke-linejoin="round"/>
<path d="M637.70 129.94 L637.89 129.10 L638.45 128.22 L639.38 127.33 L640.67 126.43 L642.31 125.53 L644.27 124.64 L646.54 123.77 L649.08 122.93 L651.88 122.13 L654.90 121.38 L658.11 120.68 L661.47 120.05 L664.95 119.49 L668.50 119.00 L672.10 118.60 L675.70 118.28 L679.25 118.06 L682.73 117.92 L686.09 117.88 L689.30 117.94 L692.32 118.09 L695.12 118.33 L697.66 118.66 L699.93 119.07 L701.89 119.57 L703.53 120.14 L704.82 120.79 L705.75 121.49 L706.31 122.25 L706.50 123.06 L706.50 123.06 L706.31 123.90 L705.75 124.78 L704.82 125.67 L703.53 126.57 L701.89 127.47 L699.93 128.36 L697.66 129.23 L695.12 130.07 L692.32 130.87 L689.30 131.62 L686.09 132.32 L682.73 132.95 L679.25 133.51 L675.70 134.00 L672.10 134.40 L668.50 134.72 L664.95 134.94 L661.47 135.08 L658.11 135.12 L654.90 135.06 L651.88 134.91 L649.08 134.67 L646.54 134.34 L644.27 133.93 L642.31 133.43 L640.67 132.86 L639.38 132.21 L638.45 131.51 L637.89 130.75 L637.70 129.94Z" fill="url(#cy)" stroke="#2a2a08" stroke-width="1.7"/>
<path d="M702.70 159.50 L702.89 160.30 L703.46 161.06 L704.41 161.77 L705.72 162.41 L707.38 162.98 L709.37 163.47 L711.68 163.88 L714.26 164.21 L717.11 164.45 L720.18 164.59 L723.43 164.64 L726.85 164.59 L730.38 164.45 L734.00 164.22 L737.65 163.90 L741.30 163.49 L744.92 163.00 L748.45 162.43 L751.87 161.80 L755.13 161.09 L758.19 160.34 L761.04 159.53 L763.62 158.69 L765.93 157.82 L767.92 156.92 L769.58 156.02 L770.89 155.12 L771.84 154.22 L772.41 153.35 L772.60 152.50 L772.60 441.00 L772.41 441.85 L771.84 442.72 L770.89 443.62 L769.58 444.52 L767.92 445.42 L765.93 446.32 L763.62 447.19 L761.04 448.03 L758.19 448.84 L755.13 449.59 L751.87 450.30 L748.45 450.93 L744.92 451.50 L741.30 451.99 L737.65 452.40 L734.00 452.72 L730.38 452.95 L726.85 453.09 L723.43 453.14 L720.18 453.09 L717.11 452.95 L714.26 452.71 L711.68 452.38 L709.37 451.97 L707.38 451.48 L705.72 450.91 L704.41 450.27 L703.46 449.56 L702.89 448.80 L702.70 448.00Z" fill="url(#vg)"/>
<path d="M702.70 159.50 L702.89 160.30 L703.46 161.06 L704.41 161.77 L705.72 162.41 L707.38 162.98 L709.37 163.47 L711.68 163.88 L714.26 164.21 L717.11 164.45 L720.18 164.59 L723.43 164.64 L726.85 164.59 L730.38 164.45 L734.00 164.22 L737.65 163.90 L741.30 163.49 L744.92 163.00 L748.45 162.43 L751.87 161.80 L755.13 161.09 L758.19 160.34 L761.04 159.53 L763.62 158.69 L765.93 157.82 L767.92 156.92 L769.58 156.02 L770.89 155.12 L771.84 154.22 L772.41 153.35 L772.60 152.50 L772.60 441.00 L772.41 441.85 L771.84 442.72 L770.89 443.62 L769.58 444.52 L767.92 445.42 L765.93 446.32 L763.62 447.19 L761.04 448.03 L758.19 448.84 L755.13 449.59 L751.87 450.30 L748.45 450.93 L744.92 451.50 L741.30 451.99 L737.65 452.40 L734.00 452.72 L730.38 452.95 L726.85 453.09 L723.43 453.14 L720.18 453.09 L717.11 452.95 L714.26 452.71 L711.68 452.38 L709.37 451.97 L707.38 451.48 L705.72 450.91 L704.41 450.27 L703.46 449.56 L702.89 448.80 L702.70 448.00Z" fill="url(#edge)"/>
<clipPath id="cp40"><path d="M702.70 159.50 L702.89 160.30 L703.46 161.06 L704.41 161.77 L705.72 162.41 L707.38 162.98 L709.37 163.47 L711.68 163.88 L714.26 164.21 L717.11 164.45 L720.18 164.59 L723.43 164.64 L726.85 164.59 L730.38 164.45 L734.00 164.22 L737.65 163.90 L741.30 163.49 L744.92 163.00 L748.45 162.43 L751.87 161.80 L755.13 161.09 L758.19 160.34 L761.04 159.53 L763.62 158.69 L765.93 157.82 L767.92 156.92 L769.58 156.02 L770.89 155.12 L771.84 154.22 L772.41 153.35 L772.60 152.50 L772.60 441.00 L772.41 441.85 L771.84 442.72 L770.89 443.62 L769.58 444.52 L767.92 445.42 L765.93 446.32 L763.62 447.19 L761.04 448.03 L758.19 448.84 L755.13 449.59 L751.87 450.30 L748.45 450.93 L744.92 451.50 L741.30 451.99 L737.65 452.40 L734.00 452.72 L730.38 452.95 L726.85 453.09 L723.43 453.14 L720.18 453.09 L717.11 452.95 L714.26 452.71 L711.68 452.38 L709.37 451.97 L707.38 451.48 L705.72 450.91 L704.41 450.27 L703.46 449.56 L702.89 448.80 L702.70 448.00Z"/></clipPath>
<ellipse cx="737.7" cy="324.8" rx="33.2" ry="60.6" fill="url(#hg)" clip-path="url(#cp40)"/>
<path d="M702.70 159.50 L702.89 160.30 L703.46 161.06 L704.41 161.77 L705.72 162.41 L707.38 162.98 L709.37 163.47 L711.68 163.88 L714.26 164.21 L717.11 164.45 L720.18 164.59 L723.43 164.64 L726.85 164.59 L730.38 164.45 L734.00 164.22 L737.65 163.90 L741.30 163.49 L744.92 163.00 L748.45 162.43 L751.87 161.80 L755.13 161.09 L758.19 160.34 L761.04 159.53 L763.62 158.69 L765.93 157.82 L767.92 156.92 L769.58 156.02 L770.89 155.12 L771.84 154.22 L772.41 153.35 L772.60 152.50 L772.60 441.00 L772.41 441.85 L771.84 442.72 L770.89 443.62 L769.58 444.52 L767.92 445.42 L765.93 446.32 L763.62 447.19 L761.04 448.03 L758.19 448.84 L755.13 449.59 L751.87 450.30 L748.45 450.93 L744.92 451.50 L741.30 451.99 L737.65 452.40 L734.00 452.72 L730.38 452.95 L726.85 453.09 L723.43 453.14 L720.18 453.09 L717.11 452.95 L714.26 452.71 L711.68 452.38 L709.37 451.97 L707.38 451.48 L705.72 450.91 L704.41 450.27 L703.46 449.56 L702.89 448.80 L702.70 448.00Z" fill="none" stroke="#1c2a10" stroke-width="1.5" stroke-linejoin="round"/>
<path d="M702.70 159.50 L702.89 158.65 L703.46 157.78 L704.41 156.88 L705.72 155.98 L707.38 155.08 L709.37 154.18 L711.68 153.31 L714.26 152.47 L717.11 151.66 L720.18 150.91 L723.43 150.20 L726.85 149.57 L730.38 149.00 L734.00 148.51 L737.65 148.10 L741.30 147.78 L744.92 147.55 L748.45 147.41 L751.87 147.36 L755.13 147.41 L758.19 147.55 L761.04 147.79 L763.62 148.12 L765.93 148.53 L767.92 149.02 L769.58 149.59 L770.89 150.23 L771.84 150.94 L772.41 151.70 L772.60 152.50 L772.60 152.50 L772.41 153.35 L771.84 154.22 L770.89 155.12 L769.58 156.02 L767.92 156.92 L765.93 157.82 L763.62 158.69 L761.04 159.53 L758.19 160.34 L755.13 161.09 L751.87 161.80 L748.45 162.43 L744.92 163.00 L741.30 163.49 L737.65 163.90 L734.00 164.22 L730.38 164.45 L726.85 164.59 L723.43 164.64 L720.18 164.59 L717.11 164.45 L714.26 164.21 L711.68 163.88 L709.37 163.47 L707.38 162.98 L705.72 162.41 L704.41 161.77 L703.46 161.06 L702.89 160.30 L702.70 159.50Z" fill="url(#cg)" stroke="#1c2a10" stroke-width="1.7"/>
<path d="M768.20 173.48 L768.39 174.29 L768.96 175.05 L769.90 175.75 L771.21 176.39 L772.86 176.96 L774.85 177.46 L777.14 177.87 L779.71 178.20 L782.55 178.44 L785.60 178.58 L788.85 178.63 L792.25 178.59 L795.76 178.45 L799.36 178.22 L803.00 177.90 L806.64 177.49 L810.24 177.00 L813.75 176.44 L817.15 175.80 L820.40 175.10 L823.45 174.35 L826.29 173.54 L828.86 172.70 L831.15 171.83 L833.14 170.94 L834.79 170.03 L836.10 169.13 L837.04 168.24 L837.61 167.36 L837.80 166.52 L837.80 441.02 L837.61 441.86 L837.04 442.74 L836.10 443.63 L834.79 444.53 L833.14 445.44 L831.15 446.33 L828.86 447.20 L826.29 448.04 L823.45 448.85 L820.40 449.60 L817.15 450.30 L813.75 450.94 L810.24 451.50 L806.64 451.99 L803.00 452.40 L799.36 452.72 L795.76 452.95 L792.25 453.09 L788.85 453.13 L785.60 453.08 L782.55 452.94 L779.71 452.70 L777.14 452.37 L774.85 451.96 L772.86 451.46 L771.21 450.89 L769.90 450.25 L768.96 449.55 L768.39 448.79 L768.20 447.98Z" fill="url(#vb)"/>
<path d="M768.20 173.48 L768.39 174.29 L768.96 175.05 L769.90 175.75 L771.21 176.39 L772.86 176.96 L774.85 177.46 L777.14 177.87 L779.71 178.20 L782.55 178.44 L785.60 178.58 L788.85 178.63 L792.25 178.59 L795.76 178.45 L799.36 178.22 L803.00 177.90 L806.64 177.49 L810.24 177.00 L813.75 176.44 L817.15 175.80 L820.40 175.10 L823.45 174.35 L826.29 173.54 L828.86 172.70 L831.15 171.83 L833.14 170.94 L834.79 170.03 L836.10 169.13 L837.04 168.24 L837.61 167.36 L837.80 166.52 L837.80 441.02 L837.61 441.86 L837.04 442.74 L836.10 443.63 L834.79 444.53 L833.14 445.44 L831.15 446.33 L828.86 447.20 L826.29 448.04 L823.45 448.85 L820.40 449.60 L817.15 450.30 L813.75 450.94 L810.24 451.50 L806.64 451.99 L803.00 452.40 L799.36 452.72 L795.76 452.95 L792.25 453.09 L788.85 453.13 L785.60 453.08 L782.55 452.94 L779.71 452.70 L777.14 452.37 L774.85 451.96 L772.86 451.46 L771.21 450.89 L769.90 450.25 L768.96 449.55 L768.39 448.79 L768.20 447.98Z" fill="url(#edge)"/>
<clipPath id="cp46"><path d="M768.20 173.48 L768.39 174.29 L768.96 175.05 L769.90 175.75 L771.21 176.39 L772.86 176.96 L774.85 177.46 L777.14 177.87 L779.71 178.20 L782.55 178.44 L785.60 178.58 L788.85 178.63 L792.25 178.59 L795.76 178.45 L799.36 178.22 L803.00 177.90 L806.64 177.49 L810.24 177.00 L813.75 176.44 L817.15 175.80 L820.40 175.10 L823.45 174.35 L826.29 173.54 L828.86 172.70 L831.15 171.83 L833.14 170.94 L834.79 170.03 L836.10 169.13 L837.04 168.24 L837.61 167.36 L837.80 166.52 L837.80 441.02 L837.61 441.86 L837.04 442.74 L836.10 443.63 L834.79 444.53 L833.14 445.44 L831.15 446.33 L828.86 447.20 L826.29 448.04 L823.45 448.85 L820.40 449.60 L817.15 450.30 L813.75 450.94 L810.24 451.50 L806.64 451.99 L803.00 452.40 L799.36 452.72 L795.76 452.95 L792.25 453.09 L788.85 453.13 L785.60 453.08 L782.55 452.94 L779.71 452.70 L777.14 452.37 L774.85 451.96 L772.86 451.46 L771.21 450.89 L769.90 450.25 L768.96 449.55 L768.39 448.79 L768.20 447.98Z"/></clipPath>
<ellipse cx="803.0" cy="330.6" rx="33.1" ry="57.6" fill="url(#hb)" clip-path="url(#cp46)"/>
<path d="M768.20 173.48 L768.39 174.29 L768.96 175.05 L769.90 175.75 L771.21 176.39 L772.86 176.96 L774.85 177.46 L777.14 177.87 L779.71 178.20 L782.55 178.44 L785.60 178.58 L788.85 178.63 L792.25 178.59 L795.76 178.45 L799.36 178.22 L803.00 177.90 L806.64 177.49 L810.24 177.00 L813.75 176.44 L817.15 175.80 L820.40 175.10 L823.45 174.35 L826.29 173.54 L828.86 172.70 L831.15 171.83 L833.14 170.94 L834.79 170.03 L836.10 169.13 L837.04 168.24 L837.61 167.36 L837.80 166.52 L837.80 441.02 L837.61 441.86 L837.04 442.74 L836.10 443.63 L834.79 444.53 L833.14 445.44 L831.15 446.33 L828.86 447.20 L826.29 448.04 L823.45 448.85 L820.40 449.60 L817.15 450.30 L813.75 450.94 L810.24 451.50 L806.64 451.99 L803.00 452.40 L799.36 452.72 L795.76 452.95 L792.25 453.09 L788.85 453.13 L785.60 453.08 L782.55 452.94 L779.71 452.70 L777.14 452.37 L774.85 451.96 L772.86 451.46 L771.21 450.89 L769.90 450.25 L768.96 449.55 L768.39 448.79 L768.20 447.98Z" fill="none" stroke="#101c30" stroke-width="1.5" stroke-linejoin="round"/>
<path d="M768.20 173.48 L768.39 172.64 L768.96 171.76 L769.90 170.87 L771.21 169.97 L772.86 169.06 L774.85 168.17 L777.14 167.30 L779.71 166.46 L782.55 165.65 L785.60 164.90 L788.85 164.20 L792.25 163.56 L795.76 163.00 L799.36 162.51 L803.00 162.10 L806.64 161.78 L810.24 161.55 L813.75 161.41 L817.15 161.37 L820.40 161.42 L823.45 161.56 L826.29 161.80 L828.86 162.13 L831.15 162.54 L833.14 163.04 L834.79 163.61 L836.10 164.25 L837.04 164.95 L837.61 165.71 L837.80 166.52 L837.80 166.52 L837.61 167.36 L837.04 168.24 L836.10 169.13 L834.79 170.03 L833.14 170.94 L831.15 171.83 L828.86 172.70 L826.29 173.54 L823.45 174.35 L820.40 175.10 L817.15 175.80 L813.75 176.44 L810.24 177.00 L806.64 177.49 L803.00 177.90 L799.36 178.22 L795.76 178.45 L792.25 178.59 L788.85 178.63 L785.60 178.58 L782.55 178.44 L779.71 178.20 L777.14 177.87 L774.85 177.46 L772.86 176.96 L771.21 176.39 L769.90 175.75 L768.96 175.05 L768.39 174.29 L768.20 173.48Z" fill="url(#cb)" stroke="#101c30" stroke-width="1.7"/>
</g>
<g>
<g filter="url(#sh)"><rect x="217.3" y="249.8" width="57.8" height="29.4" fill="#fddcc8" stroke="#444" stroke-width="1.2"/></g>
<text x="222.0" y="270.5" class="b" font-size="19.4" textLength="46.9" lengthAdjust="spacingAndGlyphs">219,5</text>
<g filter="url(#sh)"><rect x="282.8" y="266.3" width="57.1" height="30" fill="#ffffc8" stroke="#444" stroke-width="1.2"/></g>
<text x="287.5" y="287.0" class="b" font-size="19.4" textLength="45.5" lengthAdjust="spacingAndGlyphs">197,5</text>
<g filter="url(#sh)"><rect x="348.1" y="220.1" width="57.4" height="29.1" fill="#e2ecc8" stroke="#444" stroke-width="1.2"/></g>
<text x="352.8" y="240.8" class="b" font-size="19.4" textLength="46.2" lengthAdjust="spacingAndGlyphs">258,8</text>
<g filter="url(#sh)"><rect x="423.4" y="232.4" width="58.1" height="29" fill="#e4f4fc" stroke="#444" stroke-width="1.2"/></g>
<text x="428.1" y="253.1" class="b" font-size="19.4" textLength="45.8" lengthAdjust="spacingAndGlyphs">240,0</text>
<g filter="url(#sh)"><rect x="567.3" y="106.5" width="57.4" height="29" fill="#fddcc8" stroke="#444" stroke-width="1.2"/></g>
<text x="572.0" y="127.2" class="b" font-size="19.4" textLength="45.5" lengthAdjust="spacingAndGlyphs">435,4</text>
<g filter="url(#sh)"><rect x="637" y="81.3" width="57.4" height="29" fill="#ffffc8" stroke="#444" stroke-width="1.2"/></g>
<text x="641.7" y="102.0" class="b" font-size="19.4" textLength="45.2" lengthAdjust="spacingAndGlyphs">473,1</text>
<g filter="url(#sh)"><rect x="710.5" y="104.5" width="57.8" height="29" fill="#e2ecc8" stroke="#444" stroke-width="1.2"/></g>
<text x="715.2" y="125.2" class="b" font-size="19.4" textLength="46.2" lengthAdjust="spacingAndGlyphs">429,3</text>
<g filter="url(#sh)"><rect x="775.6" y="123.3" width="58.4" height="28.7" fill="#e4f4fc" stroke="#444" stroke-width="1.2"/></g>
<text x="780.3" y="144.0" class="b" font-size="19.4" textLength="45.8" lengthAdjust="spacingAndGlyphs">408,0</text>
</g>
<g>
<text x="46" y="86.4" text-anchor="start" class="b" font-size="20.3" textLength="126.6" lengthAdjust="spacingAndGlyphs">Млн. рублей</text>
<text x="119.6" y="136.3" text-anchor="end" class="b" font-size="22.2" textLength="48.6" lengthAdjust="spacingAndGlyphs">500,0</text>
<text x="119.6" y="203.7" text-anchor="end" class="b" font-size="22.2" textLength="48.6" lengthAdjust="spacingAndGlyphs">400,0</text>
<text x="119.6" y="271.1" text-anchor="end" class="b" font-size="22.2" textLength="48.6" lengthAdjust="spacingAndGlyphs">300,0</text>
<text x="119.6" y="338.4" text-anchor="end" class="b" font-size="22.2" textLength="48.6" lengthAdjust="spacingAndGlyphs">200,0</text>
<text x="119.6" y="405.8" text-anchor="end" class="b" font-size="22.2" textLength="48.6" lengthAdjust="spacingAndGlyphs">100,0</text>
<text x="119.6" y="473.2" text-anchor="end" class="b" font-size="22.2" textLength="27" lengthAdjust="spacingAndGlyphs">0,0</text>
<text x="317.9" y="500" text-anchor="middle" class="b" font-size="22" textLength="189" lengthAdjust="spacingAndGlyphs">Аренда имущества</text>
<text x="676.4" y="500" text-anchor="middle" class="b" font-size="22" textLength="207" lengthAdjust="spacingAndGlyphs">Продажа имущества</text>
<rect x="82.8" y="518.7" width="844.7" height="36.1" fill="#fff" stroke="#333" stroke-width="1.3"/>
<rect x="170.6" y="531.5" width="11" height="11.4" fill="url(#vo)" stroke="#3a3a3a" stroke-width="1"/>
<text x="185.2" y="543.6" text-anchor="start" font-size="20.2" textLength="74.4" lengthAdjust="spacingAndGlyphs">2012 год</text>
<rect x="347" y="531.5" width="11" height="11.4" fill="url(#vy)" stroke="#3a3a3a" stroke-width="1"/>
<text x="361.6" y="543.6" text-anchor="start" font-size="20.2" textLength="74.4" lengthAdjust="spacingAndGlyphs">2013 год</text>
<rect x="522.8" y="531.5" width="11" height="11.4" fill="url(#vg)" stroke="#3a3a3a" stroke-width="1"/>
<text x="537.4" y="543.6" text-anchor="start" font-size="20.2" textLength="74.8" lengthAdjust="spacingAndGlyphs">2014 год</text>
<rect x="698.6" y="531.5" width="11" height="11.4" fill="url(#vb)" stroke="#3a3a3a" stroke-width="1"/>
<text x="713.2" y="543.6" text-anchor="start" font-size="20.2" textLength="132.7" lengthAdjust="spacingAndGlyphs">2015 год (план)</text>
</g>
</svg>
</body></html>
